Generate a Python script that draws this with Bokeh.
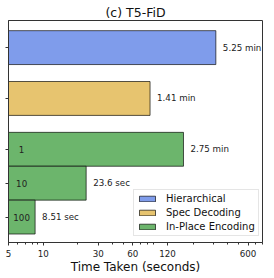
from bokeh.plotting import figure
from bokeh.models import (Range1d, FixedTicker, PrintfTickFormatter, CustomJSTickFormatter,
                          ColumnDataSource)
from bokeh.core.properties import value
from bokeh.embed import file_html
from bokeh.resources import INLINE

# ---- data ----
methods = ["Hierarchical", "Spec Decoding", "In-Place Encoding"]
hier_seconds = [315.0]          # 5.25 min
hier_labels = ["5.25 min"]
spec_seconds = [84.6]           # 1.41 min
spec_labels = ["1.41 min"]
inplace_batches = ["1", "10", "100"]
inplace_seconds = [165.0, 23.6, 8.51]
inplace_labels = ["2.75 min", "23.6 sec", "8.51 sec"]
x_ticks = [5, 10, 30, 60, 120, 600]
x_minor = [6, 7, 8, 9, 20, 40, 50, 70, 80, 90, 200, 300, 400, 500, 700, 800]

# ---- layout (row positions, top to bottom) ----
hier_y = [0.0]
spec_y = [1.5]
inplace_y = [3.0, 4.0, 5.0]

FONT = "DejaVu Sans"
colors = {"Hierarchical": "#7F9CEB", "Spec Decoding": "#E7C46F", "In-Place Encoding": "#6CB56C"}

p = figure(width=272, height=276, output_backend="svg", toolbar_location=None,
           x_axis_type="log", x_range=Range1d(5, 800), y_range=Range1d(5.75, -0.8),
           min_border_left=8, min_border_right=10, min_border_top=20, min_border_bottom=30,
           title="(c) T5-FiD")

p.title.text_font = FONT
p.title.text_font_size = "12.5px"
p.title.text_font_style = "normal"
p.title.align = "center"
p.title.text_color = "#111111"
p.title.standoff = 2
p.title.offset = 0

p.xgrid.visible = False
p.ygrid.visible = False
p.outline_line_color = "#333333"
p.outline_line_width = 1

def bars(ys, xs, name):
    src = ColumnDataSource(dict(y=ys, right=xs, left=[1.0] * len(xs)))
    return p.hbar(y="y", right="right", left="left", height=1.0, source=src,
                  fill_color=colors[name], line_color="black", line_alpha=0.65,
                  line_width=1, legend_label=name)

bars(hier_y, hier_seconds, "Hierarchical")
bars(spec_y, spec_seconds, "Spec Decoding")
bars(inplace_y, inplace_seconds, "In-Place Encoding")

lbl_y = hier_y + spec_y + inplace_y
lbl_x = hier_seconds + spec_seconds + inplace_seconds
lbl_t = hier_labels + spec_labels + inplace_labels
p.text(x=lbl_x, y=lbl_y, text=lbl_t, x_offset=7, text_baseline="middle", text_align="left",
       text_font=value(FONT), text_font_size="8.7px", text_color="#222222")

p.text(x=[6.5] * len(inplace_batches), y=inplace_y, text=inplace_batches,
       text_baseline="middle", text_align="center",
       text_font=value(FONT), text_font_size="8.7px", text_color="#222222")

# x axis
xa = p.xaxis[0]
xa.ticker = FixedTicker(ticks=x_ticks, minor_ticks=x_minor)
xa.formatter = PrintfTickFormatter(format="%d")
xa.axis_label = "Time Taken (seconds)"
xa.axis_label_text_font = FONT
xa.axis_label_text_font_size = "12px"
xa.axis_label_text_font_style = "normal"
xa.axis_label_text_color = "#111111"
xa.axis_label_standoff = 0
xa.major_label_text_font = FONT
xa.major_label_text_font_size = "8.7px"
xa.major_label_text_color = "#222222"
xa.major_label_standoff = 4
xa.major_tick_in = 0
xa.major_tick_out = 3
xa.minor_tick_in = 0
xa.minor_tick_out = 2
xa.axis_line_color = "#333333"
xa.major_tick_line_color = "#333333"
xa.minor_tick_line_color = "#333333"

# y axis: ticks only
ya = p.yaxis[0]
ya.ticker = FixedTicker(ticks=lbl_y, minor_ticks=[])
ya.formatter = CustomJSTickFormatter(code="return ''")
ya.major_label_text_font_size = "1px"
ya.major_label_standoff = 0
ya.major_tick_in = 0
ya.major_tick_out = 3
ya.minor_tick_in = 0
ya.minor_tick_out = 0
ya.axis_line_color = "#333333"
ya.major_tick_line_color = "#333333"

lg = p.legend[0]
lg.location = (125, 6)
lg.label_text_font = FONT
lg.label_text_font_size = "10px"
lg.label_text_color = "#111111"
lg.glyph_width = 20
lg.glyph_height = 7
lg.label_height = 11
lg.spacing = 3
lg.padding = 3
lg.margin = 0
lg.label_standoff = 9
lg.border_line_color = "#cccccc"
lg.border_line_width = 1
lg.background_fill_alpha = 0.85

open("out.html", "w").write(file_html(p, INLINE))
